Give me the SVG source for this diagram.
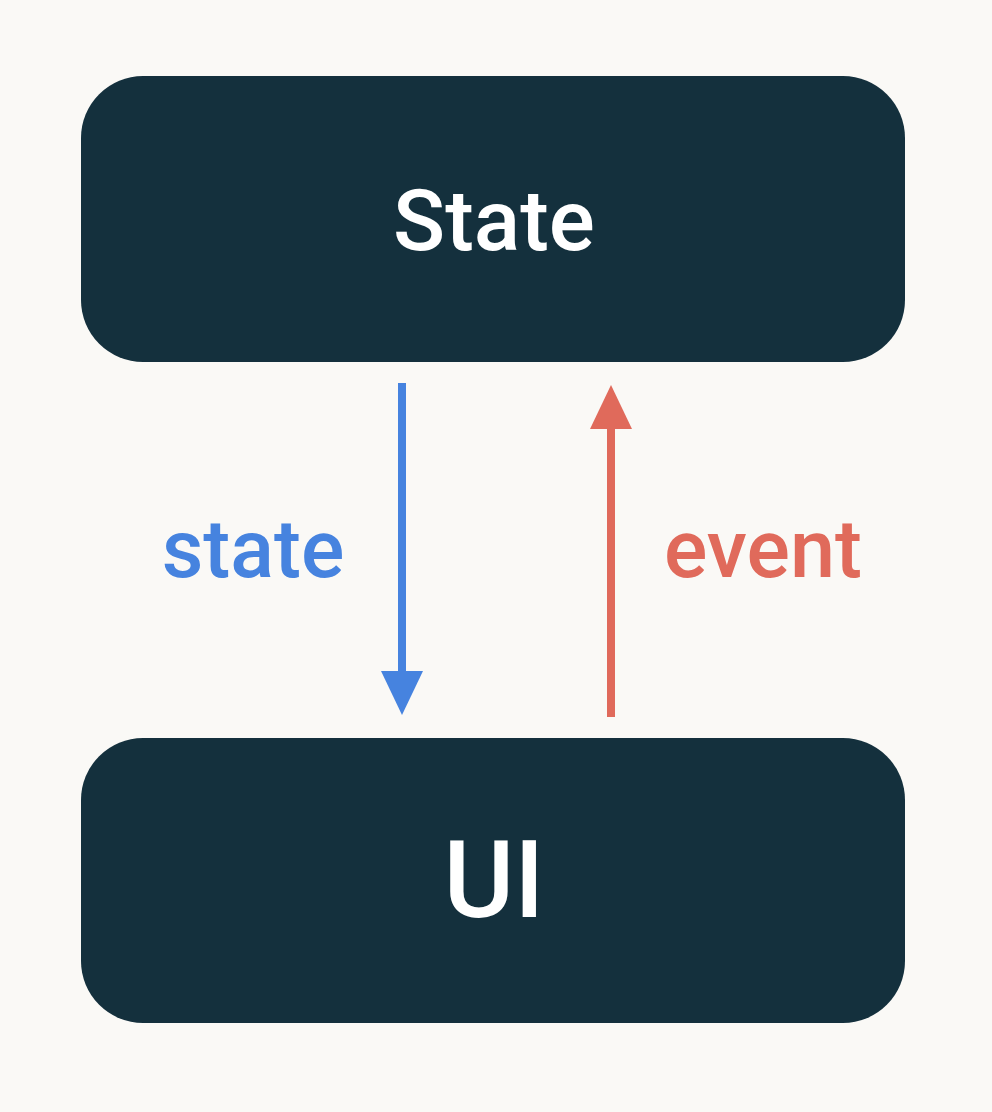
<svg xmlns="http://www.w3.org/2000/svg" width="992" height="1112" viewBox="0 0 992 1112">
  <style>
    .box { fill: #14303d; }
    .title { font-family: Roboto, "Liberation Sans", sans-serif; font-weight: 500; fill: #ffffff; text-anchor: middle; }
    .label { font-family: Roboto, "Liberation Sans", sans-serif; font-weight: 500; font-size: 81px; text-anchor: middle; }
  </style>
  <defs>
    <marker id="headBlue" viewBox="0 0 44 42" refX="9" refY="21" markerWidth="44" markerHeight="42" markerUnits="userSpaceOnUse" orient="auto">
      <path d="M0,0 L44,21 L0,42 Z" fill="#4683df"/>
    </marker>
    <marker id="headRed" viewBox="0 0 44 42" refX="9" refY="21" markerWidth="44" markerHeight="42" markerUnits="userSpaceOnUse" orient="auto">
      <path d="M0,0 L44,21 L0,42 Z" fill="#e06a5b"/>
    </marker>
  </defs>
  <rect x="0" y="0" width="992" height="1112" fill="#faf9f6"/>
  <g id="node-state">
    <rect class="box" x="81" y="76" width="824" height="286" rx="62" ry="62"/>
    <text class="title" x="494" y="250" font-size="86">State</text>
  </g>
  <g id="node-ui">
    <rect class="box" x="81" y="738" width="824" height="285" rx="62" ry="62"/>
    <text class="title" x="494" y="917" font-size="108">UI</text>
  </g>
  <g id="connectors">
    <line x1="402" y1="383" x2="402" y2="680" stroke="#4683df" stroke-width="8" marker-end="url(#headBlue)"/>
    <text class="label" x="253" y="577" fill="#4683df">state</text>
    <line x1="611" y1="717" x2="611" y2="420" stroke="#e06a5b" stroke-width="8" marker-end="url(#headRed)"/>
    <text class="label" x="763" y="577" fill="#e06a5b">event</text>
  </g>
</svg>
